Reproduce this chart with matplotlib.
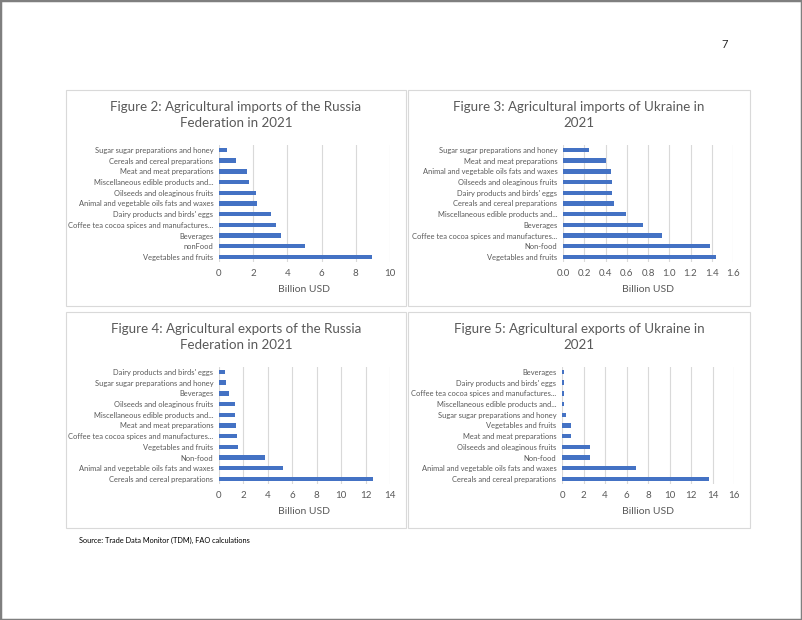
import matplotlib.pyplot as plt
from matplotlib.patches import Rectangle

plt.rcParams['font.family'] = ['Lato', 'DejaVu Sans']

ru_imp_labels = ['Vegetables and fruits', 'nonFood', 'Beverages',
                 'Coffee tea cocoa spices and manufactures...',
                 "Dairy products and birds' eggs",
                 'Animal and vegetable oils fats and waxes',
                 'Oilseeds and oleaginous fruits',
                 'Miscellaneous edible products and...',
                 'Meat and meat preparations',
                 'Cereals and cereal preparations',
                 'Sugar sugar preparations and honey']
ru_imp_vals = [8.95, 5.04, 3.64, 3.31, 3.05, 2.2, 2.16, 1.73, 1.65, 0.99, 0.49]

ua_imp_labels = ['Vegetables and fruits', 'Non-food',
                 'Coffee tea cocoa spices and manufactures...',
                 'Beverages', 'Miscellaneous edible products and...',
                 'Cereals and cereal preparations',
                 "Dairy products and birds' eggs",
                 'Oilseeds and oleaginous fruits',
                 'Animal and vegetable oils fats and waxes',
                 'Meat and meat preparations',
                 'Sugar sugar preparations and honey']
ua_imp_vals = [1.44, 1.38, 0.93, 0.75, 0.59, 0.48, 0.46, 0.46, 0.45, 0.40, 0.24]

ru_exp_labels = ['Cereals and cereal preparations',
                 'Animal and vegetable oils fats and waxes', 'Non-food',
                 'Vegetables and fruits',
                 'Coffee tea cocoa spices and manufactures...',
                 'Meat and meat preparations',
                 'Miscellaneous edible products and...',
                 'Oilseeds and oleaginous fruits', 'Beverages',
                 'Sugar sugar preparations and honey',
                 "Dairy products and birds' eggs"]
ru_exp_vals = [12.64, 5.23, 3.76, 1.53, 1.44, 1.36, 1.31, 1.31, 0.79, 0.57, 0.46]

ua_exp_labels = ['Cereals and cereal preparations',
                 'Animal and vegetable oils fats and waxes', 'Non-food',
                 'Oilseeds and oleaginous fruits',
                 'Meat and meat preparations', 'Vegetables and fruits',
                 'Sugar sugar preparations and honey',
                 'Miscellaneous edible products and...',
                 'Coffee tea cocoa spices and manufactures...',
                 "Dairy products and birds' eggs", 'Beverages']
ua_exp_vals = [13.7, 6.86, 2.62, 2.62, 0.87, 0.84, 0.37, 0.22, 0.22, 0.22, 0.16]

W, H = 802, 620
fig = plt.figure(figsize=(W / 100, H / 100), dpi=100)
TXT = '#595959'

# page border
fig.patches.append(Rectangle((0, 0), 1, 1, transform=fig.transFigure,
                             fill=False, edgecolor='#7f7f7f', linewidth=2.5))

panels = [
    # box (x0, y0, x1, y1), axes x0, x1, top, bottom, title, labels, vals, xmax, ticks, fmt
    ((66, 90, 406, 306), 219, 390, 144.6, 262.3,
     'Figure 2: Agricultural imports of the Russia\nFederation in 2021',
     ru_imp_labels, ru_imp_vals, 10, [0, 2, 4, 6, 8, 10], '{:.0f}'),
    ((408, 90, 750, 306), 563, 733, 144.6, 262.3,
     'Figure 3: Agricultural imports of Ukraine in\n2021',
     ua_imp_labels, ua_imp_vals, 1.6,
     [0, 0.2, 0.4, 0.6, 0.8, 1.0, 1.2, 1.4, 1.6], '{:.1f}'),
    ((66, 312, 406, 528), 219, 390, 366.6, 484.3,
     'Figure 4: Agricultural exports of the Russia\nFederation in 2021',
     ru_exp_labels, ru_exp_vals, 14, [0, 2, 4, 6, 8, 10, 12, 14], '{:.0f}'),
    ((408, 312, 750, 528), 562, 734, 366.6, 484.3,
     'Figure 5: Agricultural exports of Ukraine in\n2021',
     ua_exp_labels, ua_exp_vals, 16, [0, 2, 4, 6, 8, 10, 12, 14, 16], '{:.0f}'),
]

for box, ax0, ax1, top, bot, title, labels, vals, xmax, ticks, fmt in panels:
    bx0, by0, bx1, by1 = box
    fig.patches.append(Rectangle((bx0 / W, 1 - by1 / H), (bx1 - bx0) / W,
                                 (by1 - by0) / H, transform=fig.transFigure,
                                 fill=False, edgecolor='#d9d9d9', linewidth=0.8))
    ax = fig.add_axes([ax0 / W, 1 - bot / H, (ax1 - ax0) / W, (bot - top) / H])
    y = list(range(len(vals)))
    ax.barh(y, vals, height=0.42, color='#4472C4', zorder=3)
    ax.set_ylim(-0.5, len(vals) - 0.5)
    ax.set_xlim(0, xmax)
    ax.set_yticks(y)
    ax.set_yticklabels(labels, fontsize=5.4, color=TXT)
    ax.set_xticks(ticks)
    ax.set_xticklabels([fmt.format(t) for t in ticks], fontsize=7, color=TXT)
    ax.tick_params(length=0, pad=5)
    ax.tick_params(axis='y', pad=4)
    ax.grid(axis='x', color='#d9d9d9', linewidth=0.8, zorder=0)
    for s in ax.spines.values():
        s.set_visible(False)
    ax.set_xlabel('Billion USD', fontsize=7.5, color=TXT, labelpad=5)
    fig.text((bx0 + bx1) / 2 / W, 1 - (by0 + 25) / H, title, ha='center',
             va='center', fontsize=9.6, color=TXT, linespacing=1.35)

fig.text(79 / W, 1 - 540 / H, 'Source: Trade Data Monitor (TDM), FAO calculations',
         fontsize=5.3, color='black', va='center')
fig.text(725 / W, 1 - 44 / H, '7', fontsize=8, color='#262626', ha='center',
         va='center')

fig.savefig('out.png', dpi=100)
